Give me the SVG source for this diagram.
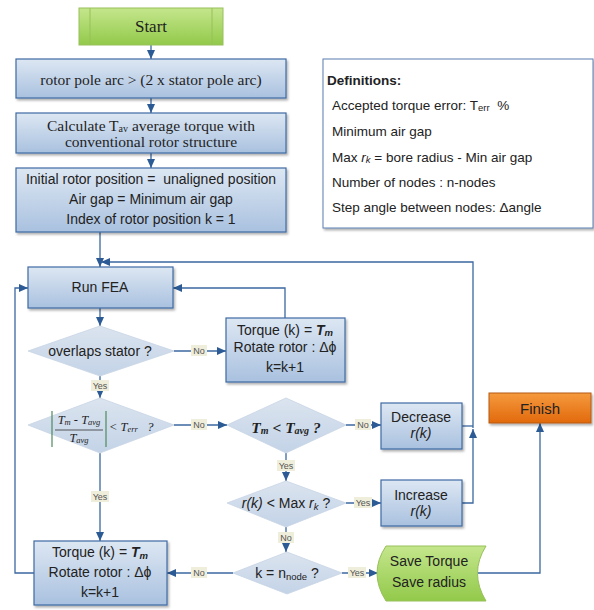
<svg xmlns="http://www.w3.org/2000/svg" width="594" height="610" viewBox="0 0 594 610">
<defs>
<linearGradient id="gBlue" x1="0" y1="0" x2="0" y2="1"><stop offset="0" stop-color="#dde7f3"/><stop offset="1" stop-color="#a9c1df"/></linearGradient>
<linearGradient id="gDia" x1="0" y1="0" x2="0" y2="1"><stop offset="0" stop-color="#dbe4ef"/><stop offset="1" stop-color="#c3d3e7"/></linearGradient>
<linearGradient id="gGreen" x1="0" y1="0" x2="0" y2="1"><stop offset="0" stop-color="#c4e68c"/><stop offset="1" stop-color="#92c94a"/></linearGradient>
<linearGradient id="gOrange" x1="0" y1="0" x2="0" y2="1"><stop offset="0" stop-color="#f59a3e"/><stop offset="1" stop-color="#e2690c"/></linearGradient>
<filter id="sh" x="-10%" y="-10%" width="130%" height="140%"><feDropShadow dx="1.5" dy="2" stdDeviation="1.2" flood-color="#000" flood-opacity="0.3"/></filter>
<marker id="arr" markerUnits="userSpaceOnUse" markerWidth="10" markerHeight="10" refX="9" refY="5" orient="auto"><path d="M0,1 L9,5 L0,9 z" fill="#2c5a95"/></marker>
</defs>
<style>
.box{fill:url(#gBlue);stroke:#3f6ba3;stroke-width:1.2;filter:url(#sh)}
.dia{fill:url(#gDia);stroke:#c8d4e4;stroke-width:0.8}
.con{fill:none;stroke:#3b67a0;stroke-width:1.3}
.ar{marker-end:url(#arr)}
.serif{font-family:"Liberation Serif","Times New Roman",serif;fill:#1f1f1f}
.sans{font-family:"Liberation Sans",Arial,sans-serif;fill:#222}
.lbl rect{fill:#efeedb}
.lbl text{font-family:"Liberation Sans",Arial,sans-serif;font-size:9px;fill:#555;text-anchor:middle}
text{dominant-baseline:central}
</style>

<g id="connectors">
<path class="con ar" d="M151,45 V59"/>
<path class="con ar" d="M151,98 V113"/>
<path class="con ar" d="M151,153 V168"/>
<path class="con ar" d="M100,232 V267"/>
<path class="con ar" d="M473,428 V262 H101"/>
<path class="con" d="M462,426 H473"/>
<path class="con ar" d="M462,503 H473 V429"/>
<path class="con ar" d="M100,308 V326"/>
<path class="con ar" d="M174,351 H226"/>
<path class="con ar" d="M285,318 V288 H173"/>
<path class="con ar" d="M100,376 V398"/>
<path class="con ar" d="M174,425 H227"/>
<path class="con ar" d="M346,425 H381"/>
<path class="con ar" d="M286,453 V481"/>
<path class="con ar" d="M346,503 H381"/>
<path class="con ar" d="M286,527 V552"/>
<path class="con ar" d="M342,573 H378"/>
<path class="con ar" d="M478,573 H540 V423"/>
<path class="con ar" d="M233,573 H167"/>
<path class="con ar" d="M100,453 V541"/>
<path class="con ar" d="M34,573 H15 V288 H28"/>
<g class="lbl"><rect x="191" y="345" width="16" height="11"/><text x="199" y="351">No</text></g>
<g class="lbl"><rect x="91" y="380" width="18" height="11"/><text x="100" y="386">Yes</text></g>
<g class="lbl"><rect x="191" y="419" width="16" height="11"/><text x="199" y="425">No</text></g>
<g class="lbl"><rect x="355" y="419" width="16" height="11"/><text x="363" y="425">No</text></g>
<g class="lbl"><rect x="277" y="460" width="18" height="11"/><text x="286" y="466">Yes</text></g>
<g class="lbl"><rect x="354" y="497" width="18" height="11"/><text x="363" y="503">Yes</text></g>
<g class="lbl"><rect x="278" y="532" width="16" height="11"/><text x="286" y="538">No</text></g>
<g class="lbl"><rect x="348" y="567" width="18" height="11"/><text x="357" y="573">Yes</text></g>
<g class="lbl"><rect x="191" y="567" width="16" height="11"/><text x="199" y="573">No</text></g>
<g class="lbl"><rect x="91" y="491" width="18" height="11"/><text x="100" y="497">Yes</text></g>
</g>

<g id="start">
<rect x="79" y="8" width="144" height="37" fill="url(#gGreen)" stroke="#98c05a" stroke-width="1"/>
<line x1="90" y1="8" x2="90" y2="45" stroke="#98c05a"/>
<line x1="212" y1="8" x2="212" y2="45" stroke="#98c05a"/>
<text class="serif" x="151" y="26" font-size="17" text-anchor="middle">Start</text>
</g>

<g id="pole-arc">
<rect class="box" x="16" y="59" width="270" height="39"/>
<text class="serif" x="151" y="79" font-size="15.5" text-anchor="middle">rotor pole arc &gt; (2 x stator pole arc)</text>
</g>

<g id="calc-tav">
<rect class="box" x="16" y="113" width="270" height="40"/>
<text class="serif" x="151" y="125" font-size="15.5" text-anchor="middle">Calculate T<tspan font-size="10" dy="3">av</tspan><tspan dy="-3"> average torque with</tspan></text>
<text class="serif" x="151" y="141" font-size="15.5" text-anchor="middle">conventional rotor structure</text>
</g>

<g id="init">
<rect class="box" x="16" y="168" width="270" height="64"/>
<text class="sans" x="151" y="179" font-size="14" text-anchor="middle">Initial rotor position =&#160; unaligned position</text>
<text class="sans" x="151" y="199" font-size="14" text-anchor="middle">Air gap = Minimum air gap</text>
<text class="sans" x="151" y="219" font-size="14" text-anchor="middle">Index of rotor position k = 1</text>
</g>

<g id="definitions">
<rect x="323" y="59" width="270" height="169" fill="#fff" stroke="#5b7fb0" stroke-width="1" filter="url(#sh)"/>
<text class="sans" x="327" y="80" font-size="13.5" font-weight="bold">Definitions:</text>
<text class="sans" x="332" y="105" font-size="13.5">Accepted torque error: T<tspan font-size="9.5" dy="2">err</tspan><tspan dy="-2">&#160; %</tspan></text>
<text class="sans" x="332" y="131" font-size="13.5">Minimum air gap</text>
<text class="sans" x="332" y="157" font-size="13.5">Max <tspan font-style="italic">r</tspan><tspan font-style="italic" font-size="9.5" dy="2">k</tspan><tspan dy="-2"> = bore radius - Min air gap</tspan></text>
<text class="sans" x="332" y="182" font-size="13.5">Number of nodes : n-nodes</text>
<text class="sans" x="332" y="207" font-size="13.5">Step angle between nodes: Δangle</text>
</g>

<g id="run-fea">
<rect class="box" x="28" y="267" width="145" height="41"/>
<text class="sans" x="100" y="287" font-size="14" text-anchor="middle">Run FEA</text>
</g>

<g id="overlaps">
<polygon class="dia" points="100,326 174,351 100,376 28,351"/>
<text class="sans" x="100" y="351" font-size="14" text-anchor="middle">overlaps stator ?</text>
</g>

<g id="torque1">
<rect class="box" x="226" y="318" width="119" height="64"/>
<text class="sans" x="285" y="330" font-size="14" text-anchor="middle">Torque (k) = <tspan font-weight="bold" font-style="italic">T</tspan><tspan font-weight="bold" font-style="italic" font-size="9.5" dy="2">m</tspan></text>
<text class="sans" x="285" y="347" font-size="14" text-anchor="middle">Rotate rotor : Δϕ</text>
<text class="sans" x="285" y="367" font-size="14" text-anchor="middle">k=k+1</text>
</g>

<g id="error-check">
<polygon class="dia" points="100,398 174,425 100,453 28,425"/>
<line x1="52" y1="411" x2="52" y2="447" stroke="#4e8a5e" stroke-width="1.2"/>
<line x1="106" y1="411" x2="106" y2="447" stroke="#4e8a5e" stroke-width="1.2"/>
<text class="serif" x="79" y="420" font-size="12.5" font-style="italic" text-anchor="middle">T<tspan font-size="8.5" dy="2">m</tspan><tspan dy="-2"> - T</tspan><tspan font-size="8.5" dy="2">avg</tspan></text>
<line x1="55" y1="430" x2="103" y2="430" stroke="#333" stroke-width="0.8"/>
<text class="serif" x="79" y="438" font-size="12.5" font-style="italic" text-anchor="middle">T<tspan font-size="8.5" dy="2">avg</tspan></text>
<text class="serif" x="109" y="427" font-size="12.5" font-style="italic">&lt; T<tspan font-size="8.5" dy="2">err</tspan><tspan dy="-2">&#160;&#160; ?</tspan></text>
</g>

<g id="tm-check">
<polygon class="dia" points="286,398 346,425 286,453 227,425"/>
<text class="serif" x="286" y="427" font-size="15.5" font-weight="bold" font-style="italic" text-anchor="middle">T<tspan font-size="10" dy="3">m</tspan><tspan dy="-3"> &lt; T</tspan><tspan font-size="10" dy="3">avg</tspan><tspan dy="-3"> ?</tspan></text>
</g>

<g id="decrease">
<rect class="box" x="381" y="403" width="81" height="46"/>
<text class="sans" x="421" y="417" font-size="14" text-anchor="middle">Decrease</text>
<text class="sans" x="421" y="433" font-size="14" font-style="italic" text-anchor="middle">r(k)</text>
</g>

<g id="finish">
<rect x="489" y="393" width="102" height="30" fill="url(#gOrange)" stroke="#b55a12" stroke-width="1" filter="url(#sh)"/>
<text class="sans" x="540" y="408" font-size="15" text-anchor="middle">Finish</text>
</g>

<g id="rk-check">
<polygon class="dia" points="286,481 346,503 286,527 227,503"/>
<text class="sans" x="286" y="503" font-size="14" text-anchor="middle"><tspan font-style="italic">r(k)</tspan> &lt; Max <tspan font-style="italic">r</tspan><tspan font-style="italic" font-size="9.5" dy="3">k</tspan><tspan dy="-3"> ?</tspan></text>
</g>

<g id="increase">
<rect class="box" x="381" y="480" width="81" height="46"/>
<text class="sans" x="421" y="495" font-size="14" text-anchor="middle">Increase</text>
<text class="sans" x="421" y="511" font-size="14" font-style="italic" text-anchor="middle">r(k)</text>
</g>

<g id="node-check">
<polygon class="dia" points="287,552 342,573 287,594 233,573"/>
<text class="sans" x="287" y="573" font-size="14" text-anchor="middle">k = n<tspan font-size="9.5" dy="3">node</tspan><tspan dy="-3"> ?</tspan></text>
</g>

<g id="save">
<path d="M386,546 H486 Q469,573 486,601 H386 Q368,573 386,546 Z" fill="url(#gGreen)" stroke="#98c05a" stroke-width="1"/>
<text class="sans" x="429" y="561" font-size="14" text-anchor="middle">Save Torque</text>
<text class="sans" x="429" y="582" font-size="14" text-anchor="middle">Save radius</text>
</g>

<g id="torque2">
<rect class="box" x="34" y="541" width="133" height="64"/>
<text class="sans" x="100" y="552" font-size="14" text-anchor="middle">Torque (k) = <tspan font-weight="bold" font-style="italic">T</tspan><tspan font-weight="bold" font-style="italic" font-size="9.5" dy="3">m</tspan></text>
<text class="sans" x="100" y="572" font-size="14" text-anchor="middle">Rotate rotor : Δϕ</text>
<text class="sans" x="100" y="592" font-size="14" text-anchor="middle">k=k+1</text>
</g>
</svg>
